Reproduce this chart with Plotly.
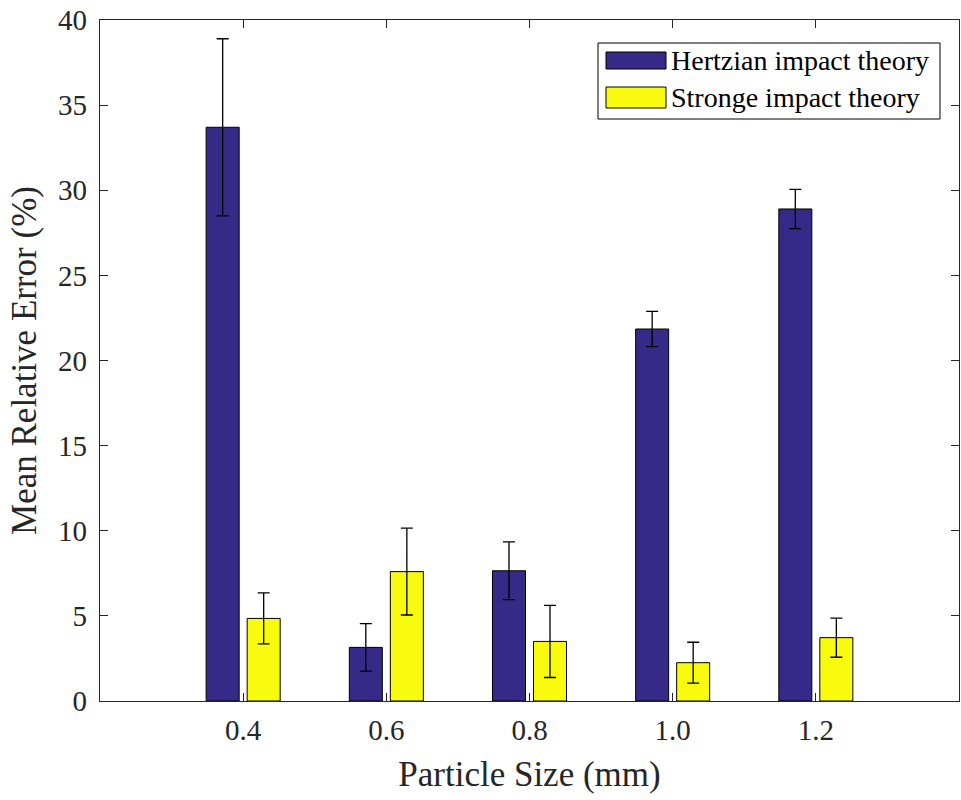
import plotly.graph_objects as go

categories = ["0.4", "0.6", "0.8", "1.0", "1.2"]
series_names = ["Hertzian impact theory", "Stronge impact theory"]
hertzian = [33.7, 3.15, 7.65, 21.85, 28.9]
hertzian_err = [5.2, 1.4, 1.7, 1.03, 1.15]
stronge = [4.85, 7.6, 3.5, 2.25, 3.72]
stronge_err = [1.5, 2.55, 2.12, 1.2, 1.15]
y_ticks = [0, 5, 10, 15, 20, 25, 30, 35, 40]

colors = ["#352A87", "#F9FB0E"]
x_pos = list(range(1, len(categories) + 1))
FONT = "Liberation Serif, Times New Roman, serif"

fig = go.Figure()
for name, vals, errs, col in zip(series_names, [hertzian, stronge], [hertzian_err, stronge_err], colors):
    fig.add_trace(go.Bar(
        x=x_pos, y=vals, name=name,
        marker=dict(color=col, line=dict(color="black", width=1)),
        error_y=dict(type="data", array=errs, visible=True, color="black", thickness=1.3, width=6),
        showlegend=False,
    ))

W, H = 961, 800
L, R, T, B = 100, 959, 20, 701

def px_x(p):
    return (p - L) / (R - L)

def px_y(p):
    return (B - p) / (B - T)

shapes = [dict(type="rect", xref="paper", yref="paper",
               x0=px_x(598), x1=px_x(940), y0=px_y(119), y1=px_y(43),
               line=dict(color="black", width=1), fillcolor="white", layer="above")]
annotations = []
rows = [(52, 69), (87, 108)]
for (y0, y1), name, col in zip(rows, series_names, colors):
    shapes.append(dict(type="rect", xref="paper", yref="paper",
                       x0=px_x(606), x1=px_x(666), y0=px_y(y1), y1=px_y(y0),
                       line=dict(color="black", width=1), fillcolor=col, layer="above"))
    annotations.append(dict(xref="paper", yref="paper", x=px_x(669), y=px_y((y0 + y1) / 2),
                            text=name, showarrow=False, xanchor="left", yanchor="middle",
                            font=dict(family=FONT, size=28, color="black")))

fig.update_layout(
    width=W, height=H,
    margin=dict(l=L, r=W - R, t=T, b=H - B),
    paper_bgcolor="white", plot_bgcolor="white",
    barmode="group", bargap=0.427, bargroupgap=0.195,
    font=dict(family=FONT, size=29, color="#262626"),
    shapes=shapes, annotations=annotations,
    xaxis=dict(range=[0, 6], tickvals=x_pos, ticktext=categories,
               showline=True, linecolor="#262626", linewidth=1.3, mirror="ticks",
               ticks="inside", ticklen=8, tickcolor="#262626", tickwidth=1.3,
               ticklabelstandoff=3,
               showgrid=False, zeroline=False,
               title=dict(text="Particle Size (mm)", font=dict(size=35), standoff=16)),
    yaxis=dict(range=[0, 40], tickvals=y_ticks,
               showline=True, linecolor="#262626", linewidth=1.3, mirror="ticks",
               ticks="inside", ticklen=8, tickcolor="#262626", tickwidth=1.3,
               ticklabelstandoff=6,
               showgrid=False, zeroline=False,
               title=dict(text="Mean Relative Error (%)", font=dict(size=35), standoff=10)),
)

fig.write_html("out.html")
